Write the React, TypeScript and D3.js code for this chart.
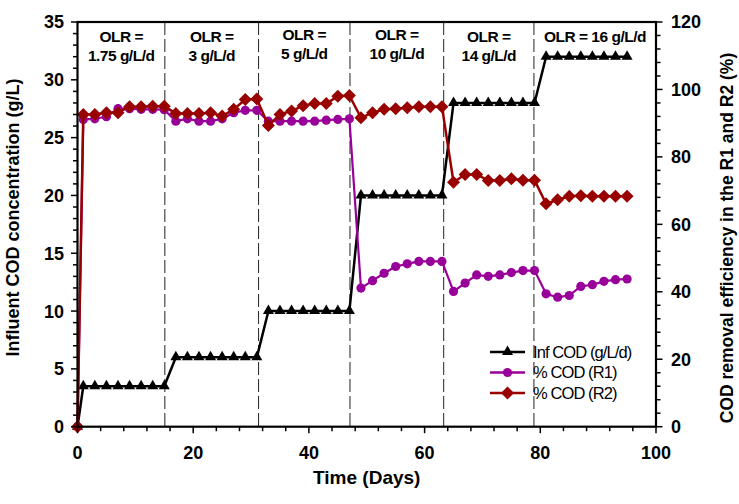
import React from 'react';
import * as d3 from 'd3';

// sampling days (shared by all three series)
const days = [0, 1, 3, 5, 7, 9, 11, 13, 15, 17, 19, 21, 23, 25, 27, 29, 31, 33, 35, 37, 39, 41, 43, 45, 47,
  49, 51, 53, 55, 57, 59, 61, 63, 65, 67, 69, 71, 73, 75, 77, 79, 81, 83, 85, 87, 89, 91, 93, 95];

// influent COD (g/L) - left axis
const infCOD = [0, 3.5, 3.5, 3.5, 3.5, 3.5, 3.5, 3.5, 3.5, 6, 6, 6, 6, 6, 6, 6, 6, 10, 10, 10, 10, 10, 10, 10, 10,
  20, 20, 20, 20, 20, 20, 20, 20, 28, 28, 28, 28, 28, 28, 28, 28, 32, 32, 32, 32, 32, 32, 32, 32];

// % COD removal - right axis
const codR1 = [0, 91.1, 91.3, 91.9, 94.3, 94.3, 94.1, 94.1, 94.0, 90.6, 91.3, 90.6, 90.6, 91.3, 93.1, 93.8, 93.8,
  90.6, 90.6, 90.6, 90.6, 90.6, 90.9, 91.1, 91.3,
  41.1, 43.3, 45.5, 47.5, 48.3, 49.0, 49.0, 49.0, 40.1, 42.6, 45.0, 44.6, 45.0, 45.7, 46.3, 46.3,
  39.4, 38.4, 38.9, 41.6, 42.1, 43.1, 43.6, 43.8];
const codR2 = [0, 92.6, 92.6, 93.1, 93.1, 94.9, 94.9, 95.0, 95.0, 92.9, 92.9, 92.9, 93.1, 92.1, 94.1, 97.0, 97.2,
  89.3, 92.6, 93.6, 95.2, 95.8, 95.8, 98.0, 98.2,
  91.6, 93.1, 94.1, 94.3, 94.6, 94.9, 94.9, 94.9, 72.5, 74.8, 74.8, 73.0, 73.0, 73.5, 73.1, 73.1,
  66.1, 67.3, 68.3, 68.5, 68.3, 68.3, 68.3, 68.3];

// phase boundaries (days) and OLR labels
const phaseEdges = [0, 15.1, 31.3, 47.1, 63.3, 78.9, 100];
const olrLabels = [
  ['OLR =', '1.75 g/L/d'],
  ['OLR =', '3 g/L/d'],
  ['OLR =', '5 g/L/d'],
  ['OLR =', '10 g/L/d'],
  ['OLR =', '14 g/L/d'],
  ['OLR = 16 g/L/d'],
];

const xTicks = [0, 20, 40, 60, 80, 100];
const yLeftTicks = [0, 5, 10, 15, 20, 25, 30, 35];
const yRightTicks = [0, 20, 40, 60, 80, 100, 120];

const legendItems = ['Inf COD (g/L/d)', '% COD (R1)', '% COD (R2)'];

const BLACK = '#000000';
const PURPLE = '#990099';
const RED = '#990000';

const W = 739;
const H = 504;
const m = { left: 77.5, right: 656, top: 22, bottom: 426.7 };

const x = d3.scaleLinear().domain([0, 100]).range([m.left, m.right]);
const yL = d3.scaleLinear().domain([0, 35]).range([m.bottom, m.top]);
const yR = d3.scaleLinear().domain([0, 120]).range([m.bottom, m.top]);

const triPath = 'M0,-6.5L5.5,3L-5.5,3Z';
const diaPath = 'M0,-6.5L6.5,0L0,6.5L-6.5,0Z';

const font = 'Arial, "Liberation Sans", sans-serif';

function Marker({ kind, color }: { kind: string; color: string }) {
  if (kind === 'tri') return <path d={triPath} fill={color} />;
  if (kind === 'dia') return <path d={diaPath} fill={color} />;
  return <circle r={4.6} fill={color} />;
}

const App: React.FC = () => {
  const lineL = d3.line<number>().x((_, i) => x(days[i])).y(d => yL(d));
  const lineR = d3.line<number>().x((_, i) => x(days[i])).y(d => yR(d));

  const minorX = d3.range(0, 101, 4);
  const minorL = d3.range(0, 36, 1);
  const minorR = d3.range(0, 121, 4);

  const series = [
    { vals: infCOD, path: lineL(infCOD), y: yL, color: BLACK, kind: 'tri', w: 2.5 },
    { vals: codR1, path: lineR(codR1), y: yR, color: PURPLE, kind: 'circ', w: 2.2 },
    { vals: codR2, path: lineR(codR2), y: yR, color: RED, kind: 'dia', w: 2.5 },
  ];

  return (
    <svg width={W} height={H} style={{ position: 'absolute', left: 0, top: 0, background: '#fff' }}
      fontFamily={font}>
      {/* phase dividers */}
      {phaseEdges.slice(1, -1).map(d => (
        <line key={d} x1={x(d)} x2={x(d)} y1={m.top} y2={m.bottom} stroke="#222" strokeWidth={1}
          strokeDasharray="13,4" />
      ))}

      {/* OLR labels */}
      {olrLabels.map((lines, i) => {
        const cx = (x(phaseEdges[i]) + x(phaseEdges[i + 1])) / 2;
        const base = i === 2 || i === 3 ? 39.5 : 41.5;
        return lines.map((t, j) => (
          <text key={i + '-' + j} x={cx} y={base + j * 19.5} textAnchor="middle" fontSize={15.5}
            fontWeight="bold" letterSpacing={-0.5}>{t}</text>
        ));
      })}

      {/* series */}
      {series.map(s => (
        <g key={s.color}>
          <path d={s.path || ''} fill="none" stroke={s.color} strokeWidth={s.w} strokeLinejoin="round" />
          {s.vals.map((v, i) => (
            <g key={i} transform={`translate(${x(days[i])},${s.y(v)})`}>
              <Marker kind={s.kind} color={s.color} />
            </g>
          ))}
        </g>
      ))}

      {/* frame */}
      <rect x={m.left} y={m.top} width={m.right - m.left} height={m.bottom - m.top} fill="none"
        stroke="#000" strokeWidth={2.2} />

      {/* bottom axis */}
      {minorX.map(t => (
        <line key={'bx' + t} x1={x(t)} x2={x(t)} y1={m.bottom} y2={m.bottom + (t % 20 === 0 ? 6.5 : 4.5)}
          stroke="#000" strokeWidth={1.5} />
      ))}
      {xTicks.map(t => (
        <text key={'xl' + t} x={x(t)} y={459} textAnchor="middle" fontSize={18} fontWeight="bold">{t}</text>
      ))}
      <text x={(m.left + m.right) / 2} y={484} textAnchor="middle" fontSize={19} fontWeight="bold">Time (Days)</text>

      {/* left axis */}
      {minorL.map(t => (
        <line key={'ly' + t} x1={m.left - (t % 5 === 0 ? 6.5 : 4.5)} x2={m.left} y1={yL(t)} y2={yL(t)}
          stroke="#000" strokeWidth={1.5} />
      ))}
      {yLeftTicks.map(t => (
        <text key={'yl' + t} x={64} y={yL(t)} dy="0.36em" textAnchor="end" fontSize={18} fontWeight="bold">{t}</text>
      ))}
      <text transform={`translate(19,${217.5}) rotate(-90)`} textAnchor="middle" fontSize={18}
        fontWeight="bold">Influent COD concentration (g/L)</text>

      {/* right axis */}
      {minorR.map(t => (
        <line key={'ry' + t} x1={m.right} x2={m.right + (t % 20 === 0 ? 6.5 : 4.5)} y1={yR(t)} y2={yR(t)}
          stroke="#000" strokeWidth={1.5} />
      ))}
      {yRightTicks.map(t => (
        <text key={'yr' + t} x={671} y={yR(t)} dy="0.36em" textAnchor="start" fontSize={18} fontWeight="bold">{t}</text>
      ))}
      <text transform={`translate(733,${238}) rotate(-90)`} textAnchor="middle" fontSize={17.5}
        fontWeight="bold">COD removal efficiency in the R1 and R2 (%)</text>

      {/* legend */}
      {legendItems.map((t, i) => {
        const ly = 352 + i * 20.5;
        const s = series[i];
        return (
          <g key={t}>
            <line x1={490} x2={525} y1={ly} y2={ly} stroke={s.color} strokeWidth={2.5} />
            <g transform={`translate(507.5,${ly})`}>
              <Marker kind={s.kind} color={s.color} />
            </g>
            <text x={533} y={ly} dy="0.36em" fontSize={16.5} letterSpacing={-0.9}>{t}</text>
          </g>
        );
      })}
    </svg>
  );
};

export default App;
